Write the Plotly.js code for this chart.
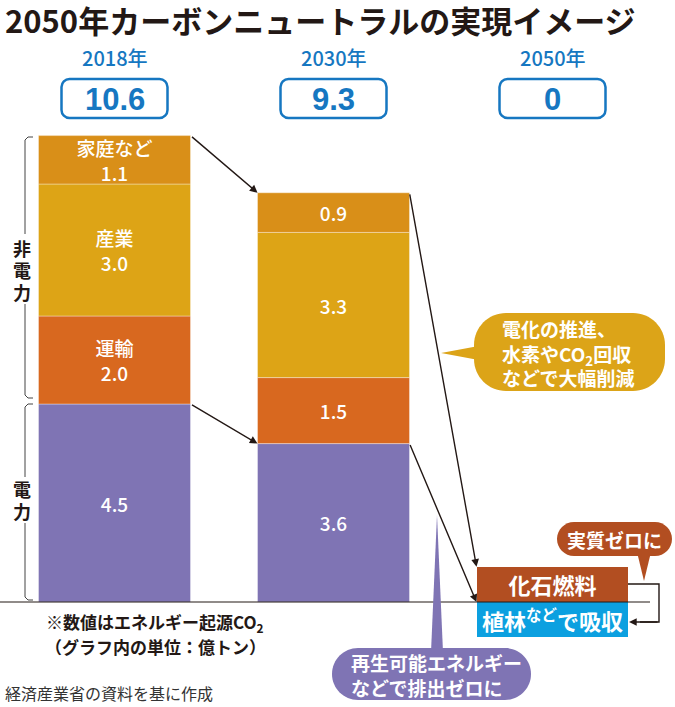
<!DOCTYPE html>
<html><head><meta charset="utf-8">
<script src="https://cdn.plot.ly/plotly-3.0.1.min.js"></script>
<style>html,body{margin:0;padding:0;background:#fff}#chart{width:675px;height:707px}</style>
</head><body><div id="chart"></div>
<script>
// ---- data ----
const years = ['2018年', '2030年', '2050年'];
const totals = ['10.6', '9.3', '0'];
const electric = [4.5, 3.6];
const transport = [2.0, 1.5];
const industry = [3.0, 3.3];
const household = [1.1, 0.9];
const transportName = '運輸';
const industryName = '産業';
const householdName = '家庭など';
const fossil2050 = [0.8];
const absorb2050 = [-0.8];
const fossilLabel = '化石燃料';
const absorbLabel = '植林<sup>など</sup>で吸収';

// ---- layout helpers ----
const W = 675, H = 707;
const X0 = 114.5, XS = 219, Y0 = 602, YS = 44;
const BW = 0.694;
const xr = [(0 - X0) / XS, (W - X0) / XS];
const yr = [(Y0 - H) / YS, Y0 / YS];
const PX = p => p / W, PY = p => 1 - p / H;
const cx = i => X0 + XS * i;

const C = {
  household: '#D98F18', industry: '#DDA416', transport: '#D8681F', electric: '#7F74B4',
  fossil: '#B24E21', absorb: '#0CA0E0', blue: '#1677C1', ink: '#231815', bubble: '#DCA418'
};
const JP = '"Noto Sans CJK JP", "Noto Sans", sans-serif';

function rrect(x0, y0, x1, y1, r) {
  const k = 0.5523 * r;
  const p = (x, y) => PX(x) + ',' + PY(y);
  return 'M' + p(x0 + r, y0) + ' L' + p(x1 - r, y0) +
    ' C' + p(x1 - r + k, y0) + ' ' + p(x1, y0 + r - k) + ' ' + p(x1, y0 + r) +
    ' L' + p(x1, y1 - r) +
    ' C' + p(x1, y1 - r + k) + ' ' + p(x1 - r + k, y1) + ' ' + p(x1 - r, y1) +
    ' L' + p(x0 + r, y1) +
    ' C' + p(x0 + r - k, y1) + ' ' + p(x0, y1 - r + k) + ' ' + p(x0, y1 - r) +
    ' L' + p(x0, y0 + r) +
    ' C' + p(x0, y0 + r - k) + ' ' + p(x0 + r - k, y0) + ' ' + p(x0 + r, y0) + ' Z';
}
function poly(pts) {
  return 'M' + pts.map(q => PX(q[0]) + ',' + PY(q[1])).join(' L') + ' Z';
}
function pline(pts) {
  return 'M' + pts.map(q => PX(q[0]) + ',' + PY(q[1])).join(' L');
}

const segFont = {family: JP, size: 19, color: '#fff', weight: 500};
function segTrace(vals, color, name) {
  return {
    type: 'bar', x: vals.map((v, i) => i), y: vals, width: BW,
    marker: {color: color, line: {color: 'rgba(255,255,255,0.35)', width: 1}},
    text: vals.map((v, i) => (i === 0 && name ? name + '<br>' : '') + v.toFixed(1)),
    textposition: 'inside', insidetextanchor: 'middle', textangle: 0,
    constraintext: 'none', textfont: segFont, hoverinfo: 'none', cliponaxis: false
  };
}
const traces = [
  segTrace(electric, C.electric, null),
  segTrace(transport, C.transport, transportName),
  segTrace(industry, C.industry, industryName),
  segTrace(household, C.household, householdName),
  {type: 'bar', x: [2], y: fossil2050, width: BW, marker: {color: C.fossil},
   text: [fossilLabel], textposition: 'inside', insidetextanchor: 'middle', textangle: 0,
   constraintext: 'none', textfont: {family: JP, size: 22, color: '#fff', weight: 'bold'}, hoverinfo: 'none'},
  {type: 'bar', x: [2], y: absorb2050, width: BW, marker: {color: C.absorb},
   text: [absorbLabel], textposition: 'inside', insidetextanchor: 'middle', textangle: 0,
   constraintext: 'none', textfont: {family: JP, size: 22, color: '#fff', weight: 'bold'}, hoverinfo: 'none'}
];

const tot18 = electric[0] + transport[0] + industry[0] + household[0];
const tot30 = electric[1] + transport[1] + industry[1] + household[1];

const shapes = [];
const ann = [];
function label(px, py, text, font, xanchor) {
  ann.push({xref: 'paper', yref: 'paper', x: PX(px), y: PY(py), text: text, showarrow: false,
    xanchor: xanchor || 'center', yanchor: 'middle', align: xanchor === 'left' ? 'left' : 'center', font: font});
}

// baseline
shapes.push({type: 'path', xref: 'paper', yref: 'paper', path: pline([[0, Y0], [650, Y0]]), line: {color: C.ink, width: 1.2}});

// year boxes
years.forEach((yv, i) => {
  shapes.push({type: 'path', xref: 'paper', yref: 'paper', path: rrect(cx(i) - 53, 79, cx(i) + 53, 118, 8),
    line: {color: C.blue, width: 2.5}, fillcolor: '#fff'});
  ann.push({xref: 'x', yref: 'paper', x: i, y: PY(58), yanchor: 'middle', xanchor: 'center', text: yv, showarrow: false,
    font: {family: JP, size: 20, color: C.blue, weight: 500}});
  ann.push({xref: 'x', yref: 'paper', x: i, y: PY(99), yanchor: 'middle', xanchor: 'center', text: '<b>' + totals[i] + '</b>', showarrow: false,
    font: {family: '"Liberation Sans", Arial, sans-serif', size: 31, color: C.blue}});
});

// title
label(3, 20, '<b>2050年カーボンニュートラルの実現イメージ</b>', {family: JP, size: 31, color: C.ink}, 'left');

// braces
const brace = [
  [[33, 137], [28, 137], [25, 140], [25, 145], [25, 234]],
  [[25, 304], [25, 390], [25, 395], [28, 398], [33, 398]],
  [[33, 404], [28, 404], [25, 407], [25, 412], [25, 477]],
  [[25, 523], [25, 592], [25, 597], [28, 600], [33, 600]]
];
brace.forEach(b => shapes.push({type: 'path', xref: 'paper', yref: 'paper', path: pline(b), line: {color: '#444', width: 1}}));
[['非', 248], ['電', 270], ['力', 292], ['電', 489], ['力', 511]].forEach(t => {
  label(22, t[1], '<b>' + t[0] + '</b>', {family: JP, size: 18, color: C.ink});
});

// connecting arrows
function arrow(hx, hy, tx, ty) {
  ann.push({xref: 'x', yref: 'y', axref: 'x', ayref: 'y', x: hx, y: hy, ax: tx, ay: ty, text: '',
    showarrow: true, arrowhead: 2, arrowsize: 1.1, arrowwidth: 1.4, arrowcolor: C.ink, standoff: 0});
}
arrow(1 - BW / 2, tot30, 0 + BW / 2, tot18);
arrow(1 - BW / 2, electric[1], 0 + BW / 2, electric[0]);
arrow(2 - BW / 2, fossil2050[0], 1 + BW / 2, tot30);
arrow(2 - BW / 2, 0, 1 + BW / 2, electric[1]);

// return arrow on the 2050 bar
shapes.push({type: 'path', xref: 'paper', yref: 'paper', path: pline([[628, 584], [659, 584], [659, 622], [640, 622]]),
  line: {color: C.ink, width: 1.4}});
ann.push({xref: 'paper', yref: 'paper', x: PX(629), y: PY(622), ax: 30, ay: 0, text: '', showarrow: true,
  arrowhead: 2, arrowsize: 1.1, arrowwidth: 1.4, arrowcolor: C.ink, standoff: 0});

// yellow callout
shapes.push({type: 'path', xref: 'paper', yref: 'paper', path: poly([[441, 353], [484, 345], [484, 361]]), fillcolor: C.bubble, line: {width: 0}});
shapes.push({type: 'path', xref: 'paper', yref: 'paper', path: rrect(474, 313, 665, 391, 32), fillcolor: C.bubble, line: {width: 0}});
label(500, 353, '<b>電化の推進、<br>水素やCO<sub>2</sub>回収<br>などで大幅削減</b>', {family: JP, size: 19, color: '#fff'}, 'left');

// brown callout
shapes.push({type: 'path', xref: 'paper', yref: 'paper', path: poly([[637, 552], [651, 552], [644, 581]]), fillcolor: C.fossil, line: {width: 0}});
shapes.push({type: 'path', xref: 'paper', yref: 'paper', path: rrect(557, 522, 672, 556, 17), fillcolor: C.fossil, line: {width: 0}});
label(614, 539, '<b>実質ゼロに</b>', {family: JP, size: 19, color: '#fff'});

// purple callout
shapes.push({type: 'path', xref: 'paper', yref: 'paper', path: poly([[431, 652], [437, 515], [443, 652]]), fillcolor: C.electric, line: {width: 0}});
shapes.push({type: 'path', xref: 'paper', yref: 'paper', path: rrect(332, 648, 531, 700, 26), fillcolor: C.electric, line: {width: 0}});
label(349, 675, '<b>再生可能エネルギー<br>などで排出ゼロに</b>', {family: JP, size: 19, color: '#fff'}, 'left');

// notes
label(155, 622, '<b>※数値はエネルギー起源CO<sub>2</sub></b>', {family: JP, size: 17, color: C.ink});
label(155, 646, '<b>（グラフ内の単位：億トン）</b>', {family: JP, size: 17, color: C.ink});
label(3, 693, '経済産業省の資料を基に作成', {family: JP, size: 16, color: '#333'}, 'left');

const layout = {
  width: W, height: H, margin: {l: 0, r: 0, t: 0, b: 0},
  paper_bgcolor: '#fff', plot_bgcolor: '#fff',
  barmode: 'relative', bargap: 0, showlegend: false,
  xaxis: {range: xr, visible: false, fixedrange: true},
  yaxis: {range: yr, visible: false, fixedrange: true},
  shapes: shapes, annotations: ann
};
Plotly.newPlot('chart', traces, layout, {displayModeBar: false, staticPlot: true});
</script></body></html>
